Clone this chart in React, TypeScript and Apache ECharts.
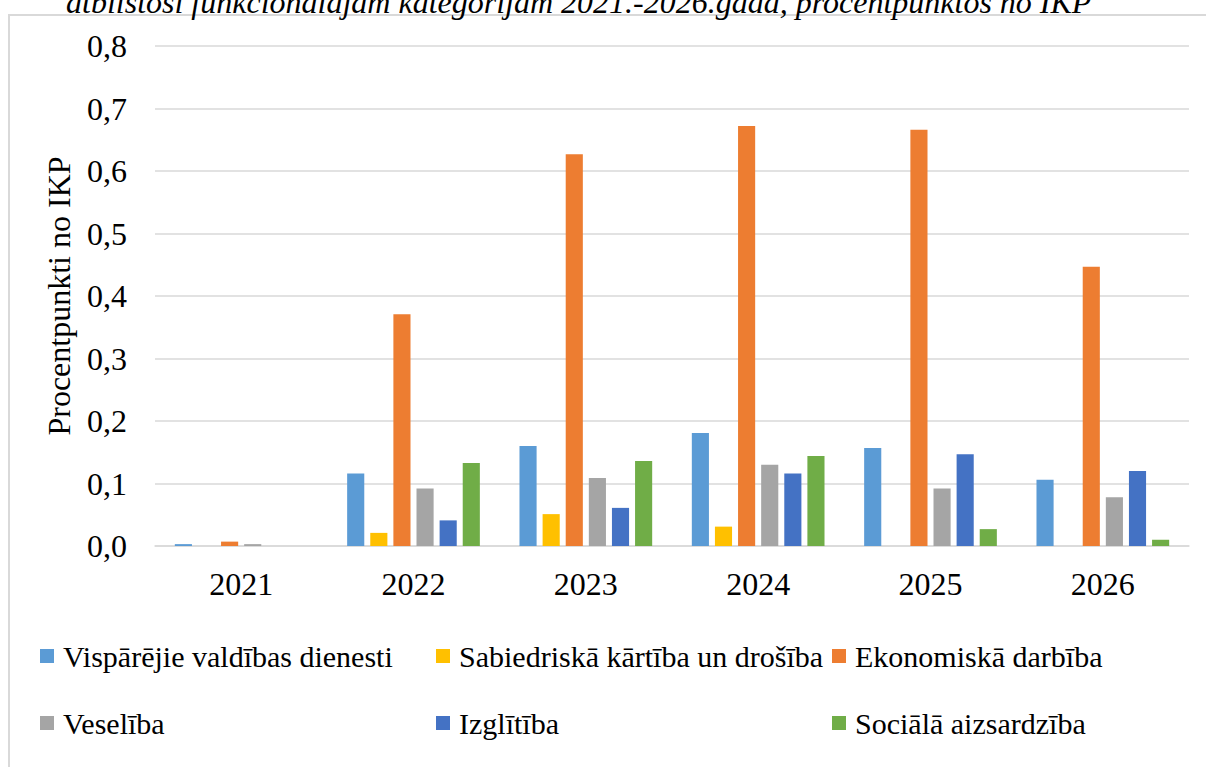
import React, { useEffect, useRef } from "react";
import * as echarts from "echarts";

const years = ["2021", "2022", "2023", "2024", "2025", "2026"];
const seriesNames = [
  "Vispārējie valdības dienesti",
  "Sabiedriskā kārtība un drošība",
  "Ekonomiskā darbība",
  "Veselība",
  "Izglītība",
  "Sociālā aizsardzība",
];
const visparejie = [0.003, 0.116, 0.16, 0.181, 0.157, 0.106];
const sabiedriska = [0, 0.021, 0.051, 0.031, 0, 0];
const ekonomiska = [0.007, 0.371, 0.627, 0.672, 0.666, 0.447];
const veseliba = [0.003, 0.092, 0.109, 0.13, 0.092, 0.078];
const izglitiba = [0, 0.041, 0.061, 0.116, 0.147, 0.12];
const sociala = [0, 0.133, 0.136, 0.144, 0.027, 0.01];
const seriesValues = [visparejie, sabiedriska, ekonomiska, veseliba, izglitiba, sociala];
const colors = ["#5B9BD5", "#FFC000", "#ED7D31", "#A5A5A5", "#4472C4", "#70AD47"];
const titleText = "atbilstoši funkcionālajām kategorijām 2021.-2026.gadā, procentpunktos no IKP";
const yAxisName = "Procentpunkti no IKP";

const FONT = "Liberation Serif";

export default function App() {
  const ref = useRef<HTMLDivElement>(null);
  useEffect(() => {
    if (!ref.current) return;
    const chart = echarts.init(ref.current, undefined, { renderer: "svg" });
    const legendLefts = [40, 436, 832];
    const legendTops = [640, 707];
    const legends = seriesNames.map((name, i) => ({
      data: [name],
      left: legendLefts[i % 3],
      top: legendTops[Math.floor(i / 3)],
      padding: 0,
      itemWidth: 14,
      itemHeight: 14,
      icon: "rect",
      selectedMode: false,
      textStyle: {
        fontFamily: FONT,
        fontSize: 30,
        color: "#000",
        lineHeight: 32,
        padding: [0, 0, 0, 4],
      },
    }));
    chart.setOption({
      animation: false,
      color: colors,
      textStyle: { fontFamily: FONT },
      grid: { left: 155, right: 17, top: 46, bottom: 221, containLabel: false },
      legend: legends,
      graphic: [
        {
          type: "rect",
          shape: { x: 9, y: 15, width: 1210, height: 770 },
          style: { fill: "none", stroke: "#d9d9d9", lineWidth: 2 },
          silent: true,
        },
        {
          type: "text",
          x: 66,
          y: 18,
          style: {
            text: titleText,
            font: `italic 32px "Liberation Serif"`,
            fontFamily: FONT,
            fontStyle: "italic",
            fontSize: 32,
            fill: "#000",
            verticalAlign: "bottom",
          },
          silent: true,
        },
      ],
      xAxis: {
        type: "category",
        data: years,
        axisLine: { show: true, lineStyle: { color: "#d9d9d9", width: 1.5 } },
        axisTick: { show: false },
        axisLabel: { fontFamily: FONT, fontSize: 32, color: "#000", margin: 22 },
      },
      yAxis: {
        type: "value",
        min: 0,
        max: 0.8,
        interval: 0.1,
        name: yAxisName,
        nameLocation: "middle",
        nameGap: 80,
        nameTextStyle: { fontFamily: FONT, fontSize: 32, color: "#000" },
        axisLine: { show: false },
        axisTick: { show: false },
        splitLine: { lineStyle: { color: "#d9d9d9", width: 1.5 } },
        axisLabel: {
          fontFamily: FONT,
          fontSize: 32,
          color: "#000",
          margin: 28,
          formatter: (v: number) => v.toFixed(1).replace(".", ","),
        },
      },
      series: seriesNames.map((name, i) => ({
        name,
        type: "bar",
        data: seriesValues[i],
        barGap: "35%",
        barCategoryGap: "23%",
        itemStyle: { color: colors[i] },
      })),
    });
    return () => chart.dispose();
  }, []);
  return (
    <div
      ref={ref}
      style={{ position: "fixed", left: 0, top: 0, width: 1206, height: 767, background: "#fff" }}
    />
  );
}
